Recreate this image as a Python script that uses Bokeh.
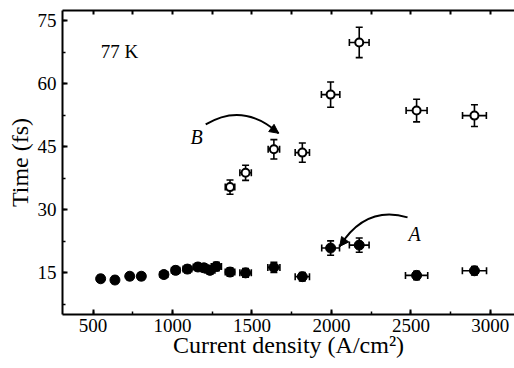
from bokeh.plotting import figure
from bokeh.models import (Range1d, LinearAxis, SingleIntervalTicker, FixedTicker, ColumnDataSource,
                          Whisker, TeeHead, Label, Arrow, NormalHead)
from bokeh.embed import file_html
from bokeh.resources import INLINE

# ---- data ----
xa = [548, 638, 731, 804, 946, 1020, 1094, 1160, 1198, 1236, 1276, 1362, 1460, 1638, 1817, 1995, 2175, 2536, 2900]
ya = [13.6, 13.3, 14.2, 14.2, 14.6, 15.6, 15.9, 16.4, 16.2, 15.6, 16.5, 15.2, 15.0, 16.3, 14.1, 20.9, 21.6, 14.4, 15.5]
ya_err = [0.8, 0.8, 0.8, 0.8, 0.8, 0.9, 0.9, 0.9, 0.9, 0.9, 1.0, 1.0, 1.0, 1.2, 1.0, 1.7, 1.7, 1.0, 1.0]
xa_err = [14, 16, 18, 20, 24, 26, 27, 29, 30, 31, 32, 30, 36, 38, 45, 56, 62, 70, 76]

xb = [1362, 1460, 1638, 1817, 1995, 2175, 2536, 2900]
yb = [35.4, 38.8, 44.4, 43.6, 57.4, 69.8, 53.6, 52.4]
yb_err = [1.7, 1.8, 2.3, 2.3, 3.0, 3.6, 2.7, 2.6]
xb_err = [30, 36, 36, 45, 58, 62, 66, 75]

x_tick_interval = 500
y_tick_interval = 15
temperature_label = "77 K"
x_label = "Current density (A/cm²)"
y_label = "Time (fs)"

FONT = "Liberation Serif"
X_MIN, X_MAX = 308, 3152
Y_MIN, Y_MAX = 5.1, 77.4

p = figure(width=514, height=368, output_backend="svg", toolbar_location=None,
           x_range=Range1d(X_MIN, X_MAX), y_range=Range1d(Y_MIN, Y_MAX),
           x_axis_location=None, y_axis_location=None,
           min_border_left=62, min_border_top=10, min_border_right=0, min_border_bottom=54)
p.outline_line_color = None
p.grid.visible = False
p.background_fill_color = "white"
p.border_fill_color = "white"


def style_axis(ax):
    ax.axis_line_width = 2
    ax.axis_line_color = "black"
    ax.major_tick_in = 5
    ax.major_tick_out = 0
    ax.minor_tick_in = 3
    ax.minor_tick_out = 0
    ax.major_tick_line_width = 2
    ax.minor_tick_line_width = 1.5
    ax.major_tick_line_color = "black"
    ax.minor_tick_line_color = "black"
    ax.major_label_text_font = FONT
    ax.major_label_text_font_size = "19px"
    ax.major_label_text_color = "black"
    ax.axis_label_text_font = FONT
    ax.axis_label_text_font_size = "24px"
    ax.axis_label_text_font_style = "normal"
    ax.axis_label_text_color = "black"


xb_axis = LinearAxis(ticker=SingleIntervalTicker(interval=x_tick_interval, num_minor_ticks=2),
                     axis_label=x_label)
style_axis(xb_axis)
xb_axis.major_label_standoff = 4
xb_axis.axis_label_standoff = -3
p.add_layout(xb_axis, "below")

# top frame line with tick marks only (no labels)
top_minor = list(range(x_tick_interval, X_MAX + 1, x_tick_interval // 2))
xt_axis = LinearAxis(ticker=FixedTicker(ticks=[], minor_ticks=top_minor))
style_axis(xt_axis)
xt_axis.minor_tick_in = 4
xt_axis.minor_tick_line_width = 2
xt_axis.major_label_standoff = 0
xt_axis.axis_label_standoff = 0
p.add_layout(xt_axis, "above")

yl_axis = LinearAxis(ticker=SingleIntervalTicker(interval=y_tick_interval, num_minor_ticks=2),
                     axis_label=y_label)
style_axis(yl_axis)
yl_axis.major_label_standoff = 6
yl_axis.axis_label_standoff = 2
p.add_layout(yl_axis, "left")


# ---- error bars ----
def add_errors(xs, ys, xe, ye):
    src = ColumnDataSource(dict(
        x=xs, y=ys,
        xl=[a - e for a, e in zip(xs, xe)], xu=[a + e for a, e in zip(xs, xe)],
        yl=[a - e for a, e in zip(ys, ye)], yu=[a + e for a, e in zip(ys, ye)]))
    for dim, base, lo, up in (("height", "x", "yl", "yu"), ("width", "y", "xl", "xu")):
        w = Whisker(source=src, base=base, lower=lo, upper=up, dimension=dim,
                    line_color="black", line_width=1.6,
                    lower_head=TeeHead(size=7, line_width=1.6, line_color="black"),
                    upper_head=TeeHead(size=7, line_width=1.6, line_color="black"))
        p.add_layout(w)
    return src


src_a = add_errors(xa, ya, xa_err, ya_err)
src_b = add_errors(xb, yb, xb_err, yb_err)

p.scatter("x", "y", source=src_a, marker="circle", size=10,
          fill_color="black", line_color="black", line_width=1)
p.scatter("x", "y", source=src_b, marker="circle", size=8,
          fill_color="white", line_color="black", line_width=2)

# ---- annotations ----
p.add_layout(Label(x=548, y=67.7, text=temperature_label, text_font=FONT,
                   text_font_size="19px", text_color="black", text_baseline="alphabetic"))
p.add_layout(Label(x=1114, y=47.3, text="B", text_font=FONT, text_font_style="italic",
                   text_font_size="20px", text_color="black", text_baseline="alphabetic"))
p.add_layout(Label(x=2485, y=24.2, text="A", text_font=FONT, text_font_style="italic",
                   text_font_size="20px", text_color="black", text_baseline="alphabetic"))


def curved_arrow(x0, y0, cx, cy, x1, y1):
    p.quadratic(x0=[x0], y0=[y0], cx=[cx], cy=[cy], x1=[x1], y1=[y1],
                line_color="black", line_width=2)
    t = 0.8
    xs = (1 - t) ** 2 * x0 + 2 * (1 - t) * t * cx + t ** 2 * x1
    ys = (1 - t) ** 2 * y0 + 2 * (1 - t) * t * cy + t ** 2 * y1
    p.add_layout(Arrow(end=NormalHead(size=9, fill_color="black", line_color="black", line_width=1),
                       x_start=xs, y_start=ys, x_end=x1, y_end=y1, line_alpha=0))


curved_arrow(1209, 50.3, 1445, 55.7, 1668, 48.2)
curved_arrow(2479, 28.2, 2215, 31.1, 2052, 21.3)

open("out.html", "w").write(file_html(p, INLINE))
